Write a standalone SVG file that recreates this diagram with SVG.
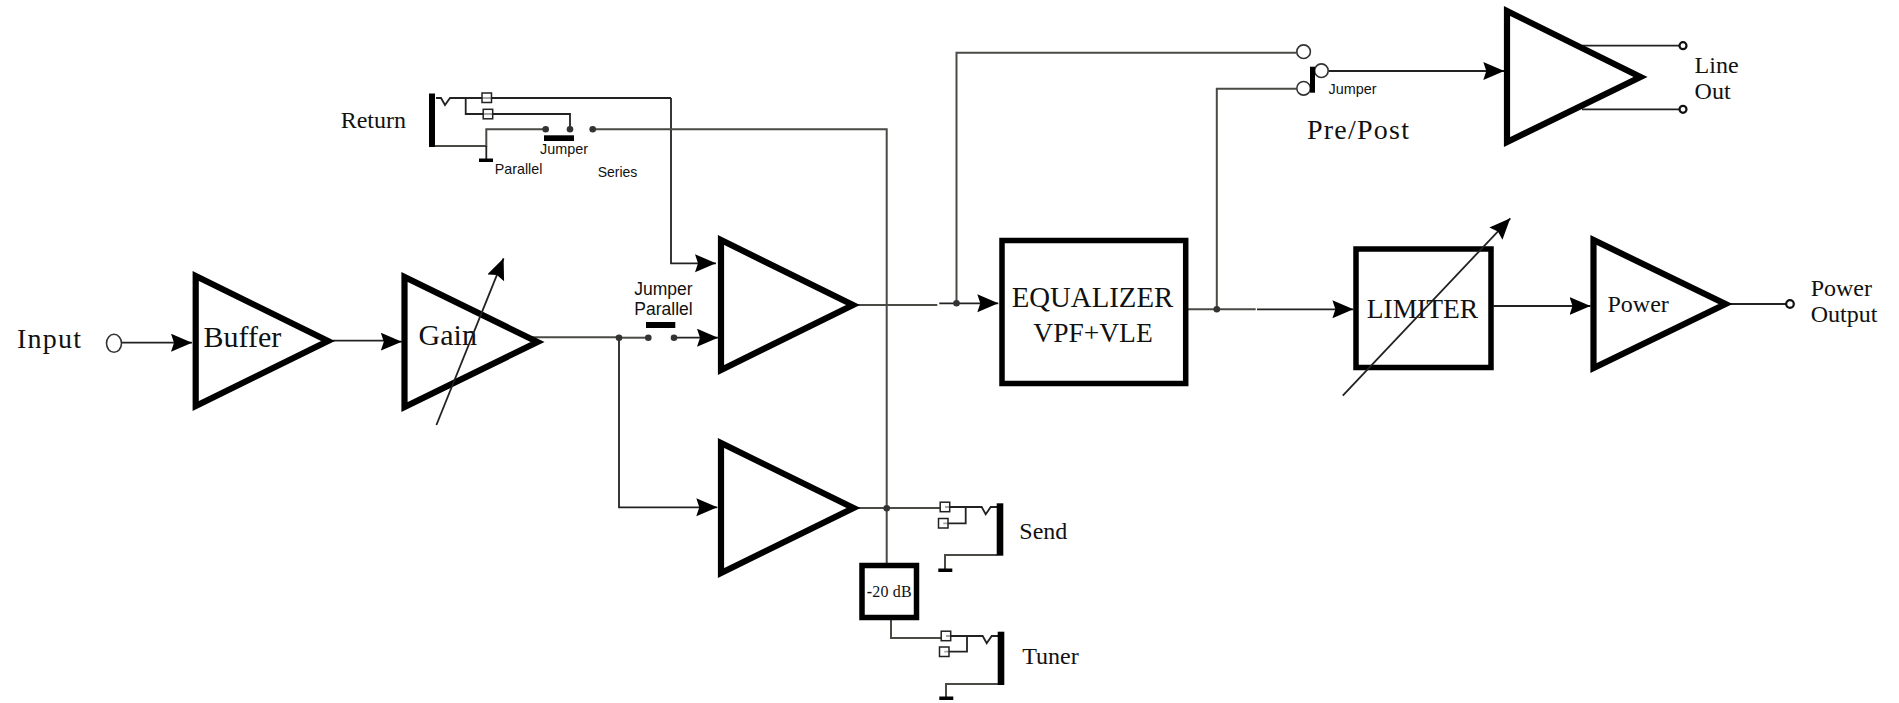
<svg xmlns="http://www.w3.org/2000/svg" width="1899" height="703" viewBox="0 0 1899 703">
<style>
.amp{fill:#fff;stroke:#000;stroke-width:6.200;stroke-miterlimit:10}
.box{fill:#fff;stroke:#000;stroke-width:5.500;stroke-miterlimit:10}
.w{fill:none;stroke:#222;stroke-width:1.800}
.g{fill:none;stroke:#4a4a44;stroke-width:2}
.a{marker-end:url(#arrow)}
.bar{fill:#000}
.dot{fill:#333}
.pin{fill:#fff;stroke:#333;stroke-width:1.600}
.tip{fill:#fff;stroke:#111;stroke-width:2.200}
.sq{fill:#fff;fill-opacity:.6;stroke:#222;stroke-width:1.500}
.t{font-family:"Liberation Serif","Times New Roman",serif;fill:#111}
.s{font-family:"Liberation Sans",Arial,sans-serif;fill:#111}
</style>
<defs>
<marker id="arrow" markerUnits="userSpaceOnUse" markerWidth="24" markerHeight="20" refX="21" refY="9" orient="auto"><path d="M0 0L21 9L0 18L3 9Z" fill="#000"/></marker>
</defs>
<g id="connectors">
<path class="w a" d="M121.500 342.700H192"/>
<path class="w a" d="M333 340.700H385V341.700H401.800"/>
<path class="g" d="M530 337.300H619"/>
<path class="g" d="M619 337.700H648.300"/>
<path class="w a" d="M674 337.700H718"/>
<path class="w a" d="M619 337.700V507.300H717.300"/>
<path class="w a" d="M671 98V263.300H716"/>
<path class="w" d="M436 98H441L445 105L450 98H671"/>
<path class="w" d="M465.700 98V114H570V129.300"/>
<path class="g" d="M545.700 129.300H486.300V146H435"/>
<path class="w" d="M486.300 146V160"/>
<path class="g" d="M592.700 129.300H886.700V563"/>
<path class="g" d="M850 305H937.300"/>
<path class="w a" d="M939.300 303.300H998.300"/>
<path class="g" d="M956.500 303.300V52.700H1296.500"/>
<path class="g" d="M850 508H940"/>
<path class="w" d="M945 507H981.700L985.700 514.300L990.700 507H997"/>
<path class="w" d="M965.700 507V523.300H943.300"/>
<path class="g" d="M997 555H945V570"/>
<path class="g" d="M891 620V638H941"/>
<path class="w" d="M946 636H982.700L986.700 643.300L991.700 636H998"/>
<path class="w" d="M967 636V651.700H944.300"/>
<path class="g" d="M998 684H946V698"/>
<path class="g" d="M1188 309.300H1255.700"/>
<path class="w a" d="M1257 309.300H1353.400"/>
<path class="g" d="M1216.800 309.300V88.700H1296.500"/>
<path class="w a" d="M1328.500 71H1504.300"/>
<path class="w" d="M1582 45.700H1679M1582 109.300H1679"/>
<path class="w a" d="M1493.300 306H1590.500"/>
<path class="w" d="M1725 304H1786"/>
</g>
<g id="input"><ellipse class="pin" cx="114" cy="343.300" rx="7.500" ry="9"/><text class="t" x="17" y="348.300" font-size="28" textLength="64">Input</text></g>
<g id="buffer"><polygon class="amp" points="195.700,276 195.700,406 328,341"/><text class="t" x="203.600" y="346.700" font-size="30">Buffer</text></g>
<g id="gain"><polygon class="amp" points="404.500,277 404.500,407 537.500,342"/><text class="t" x="418.600" y="345.300" font-size="30">Gain</text><path class="w a" d="M436.400 425L503.600 258.300"/></g>
<g id="jumper-parallel"><rect class="bar" x="646" y="322" width="29.300" height="6"/><circle class="dot" cx="619" cy="337.700" r="3.300"/><circle class="dot" cx="648.300" cy="337.700" r="3.300"/><circle class="dot" cx="674" cy="337.700" r="3.300"/><text class="s" x="634.300" y="295" font-size="17.500">Jumper</text><text class="s" x="634.300" y="315" font-size="17.500">Parallel</text></g>
<g id="return"><rect class="bar" x="429" y="93.500" width="6" height="53.500"/><rect class="sq" x="482" y="93" width="9.500" height="9.500"/><rect class="sq" x="483.200" y="109.300" width="9.500" height="9.500"/><rect class="bar" x="479" y="158.500" width="14" height="3.500"/><rect class="bar" x="544" y="135.300" width="30" height="5.700"/><circle class="dot" cx="545.700" cy="129.300" r="3.300"/><circle class="dot" cx="570" cy="129.300" r="3.300"/><circle class="dot" cx="592.700" cy="129.300" r="3.300"/><text class="t" x="340.700" y="128" font-size="24">Return</text><text class="s" x="540" y="154.300" font-size="14.400">Jumper</text><text class="s" x="494.700" y="174" font-size="14.300">Parallel</text><text class="s" x="597.700" y="176.700" font-size="14">Series</text></g>
<g id="amp-upper"><polygon class="amp" points="721,240 721,370 853,305"/></g>
<g id="amp-lower"><polygon class="amp" points="721,443 721,573 853.500,508"/><circle class="dot" cx="886.700" cy="508.300" r="3.300"/></g>
<g id="send"><rect class="sq" x="940.200" y="502.200" width="9.500" height="9.500"/><rect class="sq" x="938.500" y="518.500" width="9.500" height="9.500"/><rect class="bar" x="996.700" y="503.300" width="6.600" height="52.400"/><rect class="bar" x="938.300" y="568.500" width="14" height="3.500"/><text class="t" x="1019.300" y="539.300" font-size="24">Send</text></g>
<g id="attenuator"><rect class="box" x="862" y="565.500" width="54.500" height="52"/><text class="t" x="866.700" y="596.700" font-size="16" textLength="45"><tspan font-weight="bold">-</tspan>20 dB</text></g>
<g id="tuner"><rect class="sq" x="941.200" y="631.200" width="9.500" height="9.500"/><rect class="sq" x="939.500" y="647" width="9.500" height="9.500"/><rect class="bar" x="997.700" y="631.700" width="6.600" height="53.300"/><rect class="bar" x="939.300" y="696.500" width="14" height="3.500"/><text class="t" x="1022.300" y="664" font-size="24">Tuner</text></g>
<g id="equalizer"><rect class="box" x="1002" y="240.500" width="183.700" height="143"/><text class="t" x="1011.700" y="307.300" font-size="28.800">EQUALIZER</text><text class="t" x="1033.300" y="342" font-size="27.500">VPF+VLE</text><circle class="dot" cx="956.500" cy="303.300" r="3.300"/><circle class="dot" cx="1216.800" cy="309.300" r="3.300"/></g>
<g id="pre-post"><circle class="pin" cx="1303.600" cy="51.700" r="6.800"/><circle class="pin" cx="1321.400" cy="70.700" r="6.800"/><circle class="pin" cx="1303.600" cy="88.300" r="6.800"/><rect class="bar" x="1310" y="66.700" width="5" height="26"/><text class="s" x="1328.600" y="94" font-size="14.400">Jumper</text><text class="t" x="1307" y="139.300" font-size="28" textLength="102">Pre/Post</text></g>
<g id="line-out"><polygon class="amp" points="1507,11 1507,142 1640.500,77"/><circle class="tip" cx="1683" cy="45.700" r="3.500"/><circle class="tip" cx="1683" cy="109.300" r="3.500"/><text class="t" x="1694.600" y="73.300" font-size="24">Line</text><text class="t" x="1694.600" y="99" font-size="24">Out</text></g>
<g id="limiter"><rect class="box" x="1356" y="249" width="135" height="118.500"/><text class="t" x="1366.700" y="318.300" font-size="27.500">LIMITER</text><path class="w a" d="M1342.800 395.700L1510.300 218.300"/></g>
<g id="power"><polygon class="amp" points="1593.500,240 1593.500,368 1725.500,304"/><text class="t" x="1607.500" y="311.700" font-size="24">Power</text><circle class="tip" cx="1790" cy="304" r="3.800"/><text class="t" x="1810.700" y="296" font-size="24">Power</text><text class="t" x="1810.700" y="321.700" font-size="24">Output</text></g>
</svg>
